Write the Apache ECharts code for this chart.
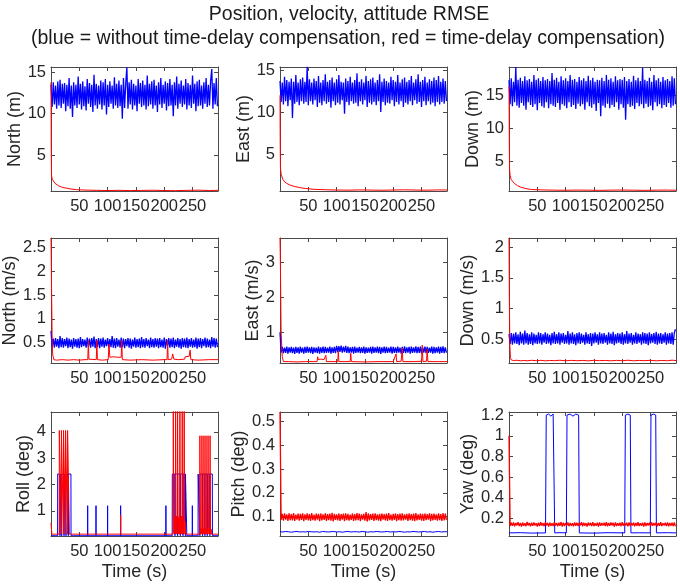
<!DOCTYPE html>
<html><head><meta charset="utf-8">
<script src="https://cdn.jsdelivr.net/npm/echarts@6/dist/echarts.min.js"></script>
<style>html,body{margin:0;padding:0;background:#fff}#c{width:680px;height:587px}</style>
</head><body><div id="c"></div>
<script>
// ---------------- data ----------------
const TITLE1 = 'Position, velocity, attitude RMSE';
const TITLE2 = '(blue = without time-delay compensation, red = time-delay compensation)';
const X_TICKS = [50, 100, 150, 200, 250];
const X_NAME = 'Time (s)';
const DT = 2;       // sample step of the noisy traces (s)
const DT_COARSE = 5;

const yNames = ['North (m)', 'East (m)', 'Down (m)', 'North (m/s)', 'East (m/s)', 'Down (m/s)', 'Roll (deg)', 'Pitch (deg)', 'Yaw (deg)'];
const yTicks = [
  [5, 10, 15], [5, 10, 15], [5, 10, 15],
  [0.5, 1, 1.5, 2, 2.5], [1, 2, 3], [0.5, 1, 1.5, 2],
  [1, 2, 3, 4], [0.1, 0.2, 0.3, 0.4, 0.5], [0.2, 0.4, 0.6, 0.8, 1, 1.2]
];
const yMin = [0.66, 0.6, 0.6, 0.08, 0.12, 0.11, 0.05, 0.018, 0.03];
const yMax = [15.64, 15.36, 19.2, 2.69, 3.7, 2.15, 4.75, 0.541, 1.23];
const X_MIN = 0, X_MAX = 295;

// blue (without compensation) noisy traces, sampled every DT seconds
const northPosBlue = [13.5,10.8,13.8,11.1,13.4,10.6,13.9,11.0,14.1,10.7,13.6,11.2,13.7,10.3,13.5,10.9,14.3,10.6,13.4,9.6,
13.8,11.0,13.5,10.7,14.5,11.1,13.6,10.5,13.9,10.9,13.3,10.4,14.2,11.2,13.7,10.8,13.5,10.2,14.7,11.0,
13.6,10.6,13.4,11.1,14.0,10.5,13.8,11.0,14.2,9.9,13.5,10.8,13.9,11.2,13.4,10.6,14.4,11.0,13.6,10.7,
14.0,10.9,13.5,9.4,14.3,10.7,13.6,15.6,10.6,13.8,11.1,14.1,10.5,13.6,11.0,13.4,10.3,14.2,11.2,13.7,
10.8,14.0,11.0,13.5,10.5,14.6,10.9,13.6,11.1,13.9,10.6,14.1,11.0,13.4,10.2,13.8,11.1,14.3,10.7,13.5,
11.2,13.9,10.4,13.7,10.9,14.2,11.0,13.5,9.7,13.8,11.0,14.5,10.6,13.6,11.2,14.0,10.8,13.4,11.1,14.2,
10.5,13.7,11.0,13.5,10.7,14.6,11.2,13.6,10.3,13.9,10.9,14.1,11.0,13.4,10.6,13.8,11.2,14.3,10.8,13.5,
11.0,14.0,15.4,10.6,13.7,11.1,14.3,10.9];
const eastPosBlue = [13.7,11.2,13.5,10.9,14.2,11.3,13.8,10.7,13.6,11.4,14.0,9.3,13.6,11.0,14.4,11.2,13.5,10.8,13.9,11.3,
14.1,11.0,13.6,11.2,15.4,10.8,13.9,11.3,13.5,10.9,14.0,11.4,13.7,10.6,14.3,11.1,13.5,10.8,13.8,11.3,
14.5,11.0,13.6,11.2,13.8,10.5,14.1,11.3,13.5,10.8,13.9,11.1,14.4,10.9,13.6,11.4,13.5,9.8,14.0,11.2,
13.7,10.8,14.2,11.3,13.5,11.0,13.8,11.1,14.6,10.7,13.6,11.3,13.9,10.9,13.5,11.4,14.3,10.6,13.7,11.1,
13.9,10.9,14.1,11.2,13.5,10.8,13.8,11.3,14.5,10.0,13.6,11.2,14.0,10.8,13.7,11.1,13.5,11.0,14.2,11.4,
13.8,10.7,13.6,11.2,14.4,10.9,13.5,11.3,13.9,10.6,14.1,11.1,13.6,10.9,13.8,11.3,14.3,10.8,13.5,11.4,
13.9,11.0,14.5,11.2,13.6,10.6,13.8,11.3,14.2,10.8,13.5,11.3,13.9,10.9,13.7,11.1,14.1,10.7,13.8,11.2,
14.3,10.9,13.6,11.2,14.0,11.0,13.7,11.3];
const downPosBlue = [17.2,13.6,17.5,13.3,17.0,13.9,19.2,13.4,17.3,13.1,17.6,13.8,17.1,13.4,17.8,12.8,17.2,13.9,17.4,13.5,
17.0,13.2,18.0,13.6,17.3,12.7,17.5,13.8,17.1,13.3,17.7,13.1,17.2,13.9,17.4,13.0,17.1,13.6,18.3,13.4,
17.3,13.2,17.6,13.8,17.0,12.8,17.8,13.6,17.2,13.4,17.5,13.0,17.1,13.9,18.0,13.2,17.3,13.5,17.4,12.9,
17.0,13.7,17.7,13.3,17.2,13.6,17.5,12.8,17.1,13.9,17.9,13.3,17.2,13.1,17.6,13.6,17.0,12.6,17.3,13.8,
17.2,11.8,17.6,13.4,17.1,13.1,18.0,13.7,17.3,13.0,17.5,13.5,17.0,13.2,17.8,13.9,17.2,12.8,17.4,13.6,
17.3,13.1,17.7,11.3,17.1,13.6,17.4,13.2,17.0,13.4,17.9,12.9,17.2,13.8,17.6,13.3,17.1,13.6,19.1,13.0,
17.3,13.7,17.1,13.2,17.6,13.4,17.0,12.7,18.0,13.9,17.2,13.3,17.5,13.6,17.0,13.0,17.7,13.5,17.2,13.2,
17.4,13.8,17.1,13.1,17.8,13.4,17.5,13.6];
const northVelBlue = [0.75,0.41,0.59,0.40,0.60,0.42,0.58,0.39,0.64,0.41,0.60,0.40,0.58,0.43,0.61,0.39,0.59,0.41,0.57,0.38,
0.60,0.42,0.58,0.40,0.59,0.39,0.62,0.41,0.58,0.43,0.57,0.40,0.61,0.41,0.59,0.40,0.60,0.42,0.63,0.39,
0.58,0.41,0.60,0.39,0.59,0.42,0.61,0.40,0.57,0.43,0.60,0.40,0.58,0.41,0.64,0.40,0.59,0.39,0.60,0.42,
0.57,0.40,0.61,0.41,0.59,0.39,0.58,0.43,0.60,0.40,0.59,0.38,0.57,0.42,0.61,0.40,0.58,0.41,0.59,0.39,
0.62,0.41,0.58,0.40,0.60,0.43,0.57,0.39,0.61,0.41,0.58,0.40,0.60,0.42,0.59,0.39,0.60,0.41,0.57,0.40,
0.61,0.38,0.58,0.43,0.60,0.40,0.59,0.41,0.61,0.39,0.57,0.42,0.60,0.40,0.58,0.38,0.60,0.41,0.59,0.40,
0.61,0.39,0.58,0.42,0.60,0.40,0.57,0.41,0.61,0.38,0.59,0.41,0.60,0.39,0.58,0.43,0.61,0.40,0.59,0.41,
0.57,0.39,0.62,0.42,0.60,0.40,0.59,0.41];
const eastVelBlue = [1.00,0.42,0.58,0.40,0.56,0.41,0.59,0.39,0.57,0.42,0.58,0.40,0.56,0.38,0.58,0.41,0.57,0.39,0.59,0.42,
0.56,0.39,0.58,0.41,0.59,0.42,0.57,0.40,0.58,0.38,0.57,0.42,0.56,0.40,0.59,0.39,0.57,0.41,0.59,0.40,
0.58,0.41,0.56,0.42,0.59,0.39,0.57,0.41,0.58,0.40,0.61,0.43,0.60,0.44,0.62,0.42,0.59,0.43,0.61,0.41,
0.59,0.40,0.57,0.42,0.58,0.39,0.59,0.41,0.56,0.42,0.58,0.40,0.57,0.41,0.59,0.39,0.57,0.41,0.56,0.42,
0.58,0.39,0.59,0.41,0.57,0.42,0.59,0.40,0.58,0.38,0.57,0.42,0.59,0.40,0.58,0.41,0.56,0.42,0.59,0.39,
0.58,0.41,0.57,0.40,0.59,0.42,0.56,0.39,0.58,0.41,0.60,0.40,0.57,0.42,0.58,0.39,0.59,0.41,0.57,0.42,
0.60,0.40,0.58,0.41,0.59,0.39,0.57,0.42,0.59,0.40,0.58,0.41,0.56,0.42,0.59,0.39,0.58,0.40,0.57,0.42,
0.59,0.39,0.58,0.41,0.60,0.40,0.57,0.42];
const downVelBlue = [0.58,0.42,0.60,0.41,0.59,0.43,0.61,0.42,0.58,0.40,0.62,0.43,0.59,0.41,0.64,0.43,0.60,0.41,0.58,0.42,
0.61,0.40,0.59,0.43,0.57,0.42,0.61,0.43,0.60,0.41,0.58,0.44,0.61,0.42,0.59,0.43,0.57,0.40,0.60,0.43,
0.62,0.42,0.58,0.43,0.61,0.41,0.59,0.44,0.60,0.42,0.57,0.43,0.63,0.41,0.59,0.43,0.61,0.42,0.58,0.40,
0.60,0.43,0.61,0.42,0.59,0.44,0.57,0.41,0.61,0.43,0.58,0.42,0.60,0.39,0.59,0.43,0.61,0.44,0.58,0.41,
0.61,0.43,0.59,0.42,0.60,0.44,0.57,0.41,0.61,0.43,0.59,0.42,0.62,0.40,0.58,0.43,0.60,0.44,0.59,0.42,
0.61,0.41,0.58,0.43,0.63,0.42,0.59,0.44,0.60,0.41,0.57,0.43,0.61,0.42,0.59,0.44,0.58,0.41,0.61,0.43,
0.60,0.42,0.59,0.40,0.61,0.43,0.58,0.44,0.60,0.42,0.62,0.41,0.59,0.43,0.60,0.42,0.58,0.44,0.61,0.41,
0.59,0.43,0.60,0.42,0.61,0.41,0.60,0.66];
const pitchBlue = [0.036,0.035,0.037,0.036,0.034,0.036,0.037,0.035,0.036,0.035,0.037,0.036,0.035,0.036,0.034,0.037,0.036,0.035,0.036,0.037,
0.035,0.036,0.034,0.036,0.037,0.035,0.036,0.036,0.035,0.037,0.036,0.034,0.036,0.035,0.037,0.036,0.035,0.036,0.037,0.035,
0.036,0.035,0.037,0.036,0.034,0.036,0.035,0.037,0.036,0.035,0.036,0.037,0.035,0.036,0.034,0.036,0.037,0.035,0.036,0.036];
// red (with compensation) noisy traces
const pitchRed = [0.54,0.086,0.111,0.083,0.113,0.087,0.109,0.082,0.114,0.085,0.110,0.084,0.115,0.082,0.108,0.087,0.112,0.083,0.111,0.086,
0.114,0.081,0.109,0.086,0.113,0.084,0.110,0.082,0.115,0.085,0.108,0.083,0.112,0.087,0.111,0.081,0.113,0.084,0.109,0.086,
0.114,0.082,0.110,0.085,0.112,0.083,0.116,0.080,0.111,0.086,0.109,0.084,0.113,0.082,0.110,0.087,0.112,0.081,0.114,0.085,
0.111,0.083,0.108,0.086,0.113,0.082,0.110,0.084,0.115,0.085,0.112,0.081,0.109,0.087,0.111,0.083,0.119,0.079,0.113,0.084,
0.110,0.086,0.112,0.082,0.114,0.085,0.109,0.083,0.111,0.081,0.113,0.087,0.110,0.084,0.112,0.082,0.115,0.085,0.108,0.083,
0.111,0.086,0.113,0.081,0.110,0.085,0.112,0.083,0.114,0.084,0.109,0.087,0.111,0.082,0.113,0.085,0.110,0.083,0.112,0.081,
0.115,0.084,0.109,0.086,0.112,0.083,0.111,0.082,0.113,0.085,0.110,0.087,0.114,0.081,0.111,0.084,0.112,0.086,0.109,0.083,
0.113,0.085,0.110,0.082,0.115,0.084,0.112,0.086];
const yawRed = [1.00,0.126,0.158,0.130,0.161,0.124,0.155,0.133,0.163,0.127,0.157,0.121,0.160,0.129,0.154,0.125,0.166,0.131,0.156,0.123,
0.159,0.128,0.162,0.132,0.153,0.122,0.158,0.127,0.164,0.130,0.155,0.125,0.161,0.133,0.157,0.121,0.160,0.128,0.154,0.126,
0.163,0.131,0.156,0.124,0.159,0.129,0.165,0.122,0.158,0.127,0.155,0.132,0.161,0.125,0.157,0.130,0.154,0.123,0.162,0.128,
0.159,0.126,0.156,0.133,0.164,0.124,0.158,0.129,0.155,0.121,0.160,0.131,0.157,0.127,0.163,0.125,0.154,0.130,0.159,0.122,
0.161,0.128,0.156,0.132,0.158,0.126,0.165,0.124,0.155,0.129,0.160,0.133,0.157,0.121,0.162,0.127,0.154,0.130,0.159,0.125,
0.163,0.128,0.156,0.131,0.158,0.123,0.161,0.126,0.155,0.132,0.160,0.124,0.157,0.129,0.164,0.127,0.154,0.130,0.159,0.122,
0.162,0.126,0.156,0.133,0.158,0.125,0.161,0.128,0.155,0.131,0.160,0.124,0.157,0.129,0.163,0.127,0.154,0.132,0.159,0.126,
0.161,0.123,0.156,0.130,0.158,0.127,0.160,0.125];

// sparse traces as [time (s), value]
const northPosRed = [[0,13.8],[0.4,6.0],[0.9,2.6],[2,2.1],[4,1.9],[7,1.6],[10,1.4],[13,1.3],[18,1.15],[23,1.05],[28,1.0],[35,0.9],[45,0.82],[60,0.77],[80,0.74],[100,0.72],[120,0.74],[140,0.71],[160,0.73],[180,0.75],[200,0.72],[220,0.70],[240,0.74],[260,0.76],[280,0.72],[295,0.74]];
const eastPosRed = [[0,12.0],[0.4,6.0],[0.8,3.3],[2,2.6],[5,2.0],[8,1.7],[12,1.5],[18,1.3],[25,1.15],[35,1.0],[45,0.9],[60,0.8],[80,0.75],[100,0.72],[120,0.70],[140,0.73],[160,0.71],[180,0.69],[200,0.72],[220,0.74],[240,0.71],[260,0.70],[280,0.73],[295,0.72]];
const downPosRed = [[0,16.3],[0.5,8.0],[1,3.9],[2,2.9],[4,2.3],[7,2.0],[10,1.7],[15,1.4],[20,1.2],[30,0.95],[40,0.82],[60,0.76],[80,0.73],[100,0.71],[120,0.74],[140,0.72],[160,0.70],[180,0.73],[200,0.75],[220,0.72],[240,0.70],[260,0.73],[280,0.74],[295,0.71]];
const northVelRed = [[0,2.69],[1,1.6],[2,0.6],[3,0.25],[5,0.15],[10,0.14],[20,0.15],[30,0.14],[40,0.15],[50,0.14],[60,0.15],[65,0.15],[66,0.55],[67,0.16],[70,0.15],[80,0.15],[81,0.55],[82,0.15],[90,0.14],[101,0.15],[102.5,0.47],[104,0.2],[110,0.21],[118,0.2],[124,0.2],[125,0.55],[126,0.15],[140,0.14],[160,0.15],[180,0.14],[200,0.15],[205,0.15],[206,0.55],[207,0.15],[213,0.16],[215,0.27],[217,0.16],[225,0.15],[236,0.16],[237,0.21],[244,0.22],[245.8,0.35],[247,0.15],[260,0.14],[280,0.15],[295,0.15]];
const eastVelRed = [[0,3.7],[0.5,3.2],[2,1.0],[4,0.3],[6,0.16],[15,0.16],[30,0.15],[45,0.16],[60,0.16],[65.5,0.16],[66.5,0.30],[67.5,0.22],[72,0.23],[78,0.22],[80,0.21],[81,0.34],[82,0.16],[92,0.16],[102,0.16],[103,0.46],[104,0.16],[115,0.16],[124,0.16],[125,0.40],[126,0.16],[150,0.15],[175,0.16],[200,0.16],[203,0.2],[205,0.38],[206,0.16],[214,0.17],[216,0.55],[217,0.16],[235,0.16],[250,0.17],[251.3,0.63],[252.5,0.16],[258.8,0.17],[260,0.52],[261.2,0.16],[280,0.16],[295,0.16]];
const downVelRed = [[0,2.15],[0.6,1.2],[1.5,0.4],[2.5,0.2],[4,0.16],[8,0.15],[14,0.155],[20,0.145],[26,0.152],[32,0.146],[40,0.154],[48,0.147],[56,0.153],[64,0.145],[72,0.152],[80,0.148],[90,0.155],[100,0.146],[110,0.153],[120,0.147],[130,0.152],[140,0.145],[150,0.154],[160,0.148],[170,0.152],[180,0.146],[190,0.153],[200,0.147],[210,0.155],[220,0.146],[230,0.152],[240,0.148],[250,0.154],[260,0.145],[270,0.152],[280,0.147],[288,0.156],[295,0.15]];
const rollBlue = [[0,0.06],[11.6,0.06],[11.8,2.4],[15.8,2.4],[15.9,0.06],[16.0,2.4],[18.8,2.4],[18.9,0.06],[19.0,2.4],[22.9,2.4],[23.0,0.06],[23.1,2.4],[26.4,2.4],[26.5,0.06],[26.6,2.4],[30.5,2.4],[30.6,0.06],[30.7,2.4],[35.2,2.4],[35.4,0.06],
[64.6,0.06],[64.8,1.2],[65.0,0.06],[79.3,0.06],[79.5,1.2],[79.7,0.06],[99.8,0.06],[100,1.2],[100.2,0.06],[122.8,0.06],[123,1.2],[123.2,0.06],[202.8,0.06],[203,1.2],[203.2,0.06],
[214.1,0.06],[214.3,2.4],[218.9,2.4],[219,0.06],[219.1,2.4],[223.6,2.4],[223.7,0.06],[223.8,2.4],[228.4,2.4],[228.5,0.06],[228.6,2.4],[233.1,2.4],[233.2,0.06],[233.3,2.4],[237.3,2.4],[237.4,0.06],[237.5,2.4],[239.7,2.4],[239.9,0.06],
[249.5,0.06],[249.7,1.2],[249.9,0.06],
[259.8,0.06],[260,2.4],[262.9,2.4],[263,0.06],[263.1,2.4],[267.6,2.4],[267.7,0.06],[267.8,2.4],[271.7,2.4],[271.8,0.06],[271.9,2.4],[275.9,2.4],[276,0.06],[276.1,2.4],[280.6,2.4],[280.7,0.06],[280.8,2.4],[285,2.4],[285.2,0.06],[295,0.06]];
const rollRed = [[0,0.55],[1.5,0.12],[14.5,0.12],[14.7,4.05],[18.2,4.05],[18.3,0.12],[18.4,4.05],[21.9,4.05],[22,0.12],[22.1,4.05],[25.5,4.05],[25.6,0.12],[25.7,4.05],[29.1,4.05],[29.2,0.12],[29.3,4.05],[32.3,4.05],[32.5,0.12],
[122.8,0.12],[123,0.85],[123.2,0.12],
[215.8,0.12],[216,5.2],[216.4,5.2],[216.6,0.8],[217.2,0.15],[217.8,0.75],[218.4,0.12],[219,0.8],[219.6,0.14],[220.1,5.2],[220.5,5.2],[220.7,0.7],[221.3,0.12],[221.9,0.8],[222.5,0.15],[223.1,0.78],[223.6,5.2],[224,5.2],[224.2,0.8],[224.8,0.12],[225.4,0.75],[226,0.14],[226.6,0.8],[227.2,0.12],[227.7,5.2],[228.1,5.2],[228.3,0.8],[228.9,0.15],[229.5,0.78],[230.1,0.12],[230.7,0.8],[231.3,0.14],[231.8,5.2],[232.2,5.2],[232.4,0.75],[233,0.12],[233.6,0.8],[234.2,0.15],[234.8,0.78],[235.3,5.2],[235.7,5.2],[235.9,0.8],[236.5,0.12],[237,0.6],[237.3,0.12],
[262.8,0.12],[263,3.85],[263.6,3.85],[263.8,0.35],[264.4,0.12],[265,0.35],[265.6,0.12],[266.2,0.33],[266.6,3.85],[267.2,3.85],[267.4,0.35],[268,0.12],[268.6,0.34],[269.2,0.12],[269.8,0.35],[270.2,3.85],[270.8,3.85],[271,0.33],[271.6,0.12],[272.2,0.35],[272.8,0.12],[273.4,0.34],[273.8,3.85],[274.4,3.85],[274.6,0.35],[275.2,0.12],[275.8,0.33],[276.4,0.12],[277,0.35],[277.4,3.85],[278,3.85],[278.2,0.34],[278.8,0.12],[279.4,0.35],[280,0.12],[280.6,0.33],[281,3.85],[281.6,3.85],[281.8,0.35],[282.4,0.12],[283,0.3],[283.3,0.12],[295,0.12]];
const yawBlue = [[0,0.06],[20,0.062],[40,0.058],[64.5,0.06],[65.8,1.2],[70,1.21],[74,1.19],[78,1.21],[79.6,1.2],[80.8,0.06],[90,0.062],[101.3,0.06],[102.5,1.2],[108,1.21],[113,1.19],[118,1.21],[123,1.2],[124.2,0.06],[150,0.058],[175,0.062],[204.4,0.06],[205.6,1.2],[210,1.21],[214.2,1.2],[215.4,0.06],[230,0.061],[249.6,0.06],[250.8,1.2],[255,1.21],[259.2,1.2],[260.4,0.06],[280,0.062],[295,0.06]];

// ---------------- chart ----------------
function onGrid(vals, dt) { return vals.map(function (v, i) { return [i * dt, v]; }); }

const blueSeries = [onGrid(northPosBlue, DT), onGrid(eastPosBlue, DT), onGrid(downPosBlue, DT),
  onGrid(northVelBlue, DT), onGrid(eastVelBlue, DT), onGrid(downVelBlue, DT),
  rollBlue, onGrid(pitchBlue, DT_COARSE), yawBlue];
const redSeries = [northPosRed, eastPosRed, downPosRed, northVelRed, eastVelRed, downVelRed,
  rollRed, onGrid(pitchRed, DT), onGrid(yawRed, DT)];
// which traces are dense noise (drawn a little heavier)
const blueDense = [true, true, true, true, true, true, false, false, false];
const redDense = [false, false, false, false, false, false, false, true, true];

const FONT = 'Liberation Sans, Arial, Helvetica, sans-serif';
const TXT = '#262626';
const AX = '#4a4a4a';
const colLeft = [51, 280, 509];
const rowTop = [67, 238, 412];
const rowH = [124, 125, 124];
const PW = 167;
const nameGaps = [26, 27, 26, 30, 17, 30, 16, 30, 30];

const grids = [], xAxes = [], yAxes = [], series = [];
for (let g = 0; g < 9; g++) {
  const r = Math.floor(g / 3), c = g % 3;
  grids.push({ left: colLeft[c], top: rowTop[r], width: PW, height: rowH[r], containLabel: false, outerBoundsMode: 'none' });
  const tick = { show: true, inside: true, length: 4, lineStyle: { color: AX, width: 1 } };
  const line = { show: true, onZero: false, lineStyle: { color: AX, width: 1 } };
  xAxes.push({
    type: 'value', gridIndex: g, min: X_MIN, max: X_MAX, position: 'bottom',
    axisLine: line, splitLine: { show: false },
    axisTick: Object.assign({ customValues: X_TICKS }, tick),
    axisLabel: { customValues: X_TICKS, margin: 7, fontSize: 16.5, color: TXT, fontFamily: FONT },
    name: r === 2 ? X_NAME : '', nameLocation: 'middle', nameGap: 27,
    nameTextStyle: { fontSize: 18, color: TXT, fontFamily: FONT }
  });
  xAxes.push({
    type: 'value', gridIndex: g, min: X_MIN, max: X_MAX, position: 'top',
    axisLine: line, splitLine: { show: false },
    axisTick: Object.assign({ customValues: X_TICKS }, tick),
    axisLabel: { show: false }
  });
  yAxes.push({
    type: 'value', gridIndex: g, min: yMin[g], max: yMax[g], position: 'left',
    axisLine: line, splitLine: { show: false },
    axisTick: Object.assign({ customValues: yTicks[g] }, tick),
    axisLabel: { customValues: yTicks[g], margin: 5, fontSize: 16.5, color: TXT, fontFamily: FONT },
    name: yNames[g], nameLocation: 'middle', nameGap: nameGaps[g],
    nameTextStyle: { fontSize: 18, color: TXT, fontFamily: FONT }
  });
  yAxes.push({
    type: 'value', gridIndex: g, min: yMin[g], max: yMax[g], position: 'right',
    axisLine: line, splitLine: { show: false },
    axisTick: Object.assign({ customValues: yTicks[g] }, tick),
    axisLabel: { show: false }
  });
  series.push({
    type: 'line', xAxisIndex: 2 * g, yAxisIndex: 2 * g, data: blueSeries[g],
    showSymbol: false, symbol: 'none', clip: true,
    lineStyle: { color: '#0000ff', width: blueDense[g] ? 1.3 : 1 }, itemStyle: { color: '#0000ff' }, z: 2
  });
  series.push({
    type: 'line', xAxisIndex: 2 * g, yAxisIndex: 2 * g, data: redSeries[g],
    showSymbol: false, symbol: 'none', clip: true,
    lineStyle: { color: '#ff0000', width: redDense[g] ? 1.3 : 1 }, itemStyle: { color: '#ff0000' }, z: 3
  });
}

const chart = echarts.init(document.getElementById('c'), null, { renderer: 'canvas' });
chart.setOption({
  animation: false,
  backgroundColor: '#ffffff',
  title: [
    { text: TITLE1, left: 344, top: 0, textAlign: 'center', textStyle: { fontSize: 19.5, fontWeight: 'normal', color: '#1a1a1a', fontFamily: FONT } },
    { text: TITLE2, left: 343, top: 24, textAlign: 'center', textStyle: { fontSize: 19.5, fontWeight: 'normal', color: '#1a1a1a', fontFamily: FONT } }
  ],
  grid: grids, xAxis: xAxes, yAxis: yAxes, series: series
});
</script></body></html>
